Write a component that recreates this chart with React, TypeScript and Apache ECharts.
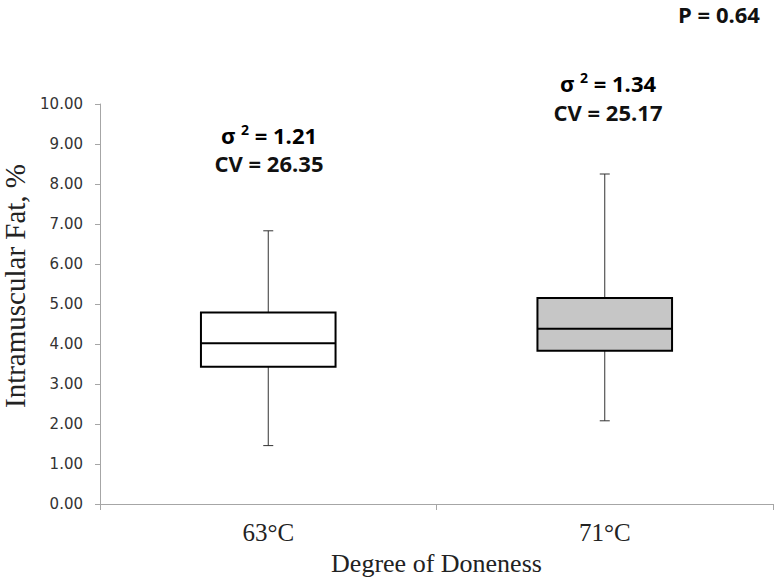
import React, { useEffect, useRef } from "react";
import * as echarts from "echarts";

const categories = ["63°C", "71°C"];
const minValues = [1.46, 2.08];
const q1Values = [3.43, 3.83];
const medianValues = [4.02, 4.38];
const q3Values = [4.79, 5.15];
const maxValues = [6.83, 8.25];
const boxFills = ["#ffffff", "#c6c6c6"];
const varianceLabels = ["1.21", "1.34"];
const cvLabels = ["26.35", "25.17"];
const pValueLabel = "P = 0.64";

export default function App() {
  const ref = useRef<HTMLDivElement>(null);
  useEffect(() => {
    if (!ref.current) return;
    const chart = echarts.init(ref.current, null, { renderer: "svg" });
    const data = categories.map((_, i) => [
      i,
      minValues[i],
      q1Values[i],
      medianValues[i],
      q3Values[i],
      maxValues[i],
    ]);
    const annoFont = "'Open Sans', sans-serif";
    const annoSize = 22;
    const rich = {
      s: { fontFamily: annoFont, fontWeight: "bold", fontSize: annoSize, color: "#111" },
      sup: { fontFamily: annoFont, fontWeight: "bold", fontSize: 14, color: "#111", padding: [0, 0, 12, 0] },
    };
    const annoPos = [
      { x: 269, y1: 135, y2: 163 },
      { x: 608, y1: 83, y2: 112 },
    ];
    const graphics: any[] = [];
    annoPos.forEach((p, i) => {
      graphics.push({
        type: "text",
        x: p.x,
        y: p.y1,
        style: {
          text: `{s|σ }{sup|2}{s| = ${varianceLabels[i]}}`,
          rich,
          align: "center",
          verticalAlign: "middle",
        },
      });
      graphics.push({
        type: "text",
        x: p.x,
        y: p.y2,
        style: {
          text: `CV = ${cvLabels[i]}`,
          fontFamily: annoFont,
          fontWeight: "bold",
          fontSize: annoSize,
          fill: "#111",
          align: "center",
          verticalAlign: "middle",
        },
      });
    });
    graphics.push({
      type: "text",
      x: 719,
      y: 14,
      style: {
        text: pValueLabel,
        fontFamily: annoFont,
        fontWeight: "bold",
        fontSize: annoSize,
        fill: "#111",
        align: "center",
        verticalAlign: "middle",
      },
    });

    chart.setOption({
      animation: false,
      backgroundColor: "#ffffff",
      grid: { left: 100, right: 3, top: 104, bottom: 76, containLabel: false, outerBoundsMode: "none" },
      xAxis: {
        type: "category",
        data: categories,
        boundaryGap: true,
        axisLine: { lineStyle: { color: "#a6a6a6", width: 1 } },
        axisTick: { show: true, length: 6, lineStyle: { color: "#a6a6a6" } },
        axisLabel: {
          fontFamily: "'Liberation Serif', serif",
          fontSize: 25,
          color: "#222",
          margin: 16,
        },
        name: "Degree of Doneness",
        nameLocation: "middle",
        nameGap: 46,
        nameTextStyle: {
          fontFamily: "'Liberation Serif', serif",
          fontSize: 26,
          color: "#222",
        },
      },
      yAxis: {
        type: "value",
        min: 0,
        max: 10,
        interval: 1,
        splitLine: { show: false },
        axisLine: { show: true, lineStyle: { color: "#a6a6a6", width: 1 } },
        axisTick: { show: true, length: 5, lineStyle: { color: "#a6a6a6" } },
        axisLabel: {
          formatter: (v: number) => v.toFixed(2),
          fontFamily: "'DejaVu Sans', sans-serif",
          fontSize: 15,
          color: "#333",
          margin: 17,
        },
        name: "Intramuscular Fat, %",
        nameLocation: "middle",
        nameGap: 70,
        nameTextStyle: {
          fontFamily: "'Liberation Serif', serif",
          fontSize: 29,
          color: "#222",
          padding: [0, 0, 0, 36],
        },
      },
      graphic: graphics,
      series: [
        {
          type: "custom",
          data,
          encode: { x: 0, y: [1, 2, 3, 4, 5] },
          renderItem: (params: any, api: any) => {
            const idx = api.value(0);
            const pMin = api.coord([idx, api.value(1)]);
            const pQ1 = api.coord([idx, api.value(2)]);
            const pMed = api.coord([idx, api.value(3)]);
            const pQ3 = api.coord([idx, api.value(4)]);
            const pMax = api.coord([idx, api.value(5)]);
            const bw = api.size([1, 0])[0] * 0.4;
            const cx = pMed[0];
            const cap = 5;
            const whisk = { stroke: "#333", lineWidth: 1 };
            return {
              type: "group",
              children: [
                { type: "line", shape: { x1: cx, y1: pMax[1], x2: cx, y2: pQ3[1] }, style: whisk },
                { type: "line", shape: { x1: cx, y1: pQ1[1], x2: cx, y2: pMin[1] }, style: whisk },
                { type: "line", shape: { x1: cx - cap, y1: pMax[1], x2: cx + cap, y2: pMax[1] }, style: whisk },
                { type: "line", shape: { x1: cx - cap, y1: pMin[1], x2: cx + cap, y2: pMin[1] }, style: whisk },
                {
                  type: "rect",
                  shape: { x: cx - bw / 2, y: pQ3[1], width: bw, height: pQ1[1] - pQ3[1] },
                  style: { fill: boxFills[idx], stroke: "#000", lineWidth: 2 },
                },
                {
                  type: "line",
                  shape: { x1: cx - bw / 2, y1: pMed[1], x2: cx + bw / 2, y2: pMed[1] },
                  style: { stroke: "#000", lineWidth: 2 },
                },
              ],
            };
          },
        },
      ],
    });
    return () => chart.dispose();
  }, []);
  return <div ref={ref} style={{ width: 776, height: 580, position: "absolute", left: 0, top: 0 }} />;
}
